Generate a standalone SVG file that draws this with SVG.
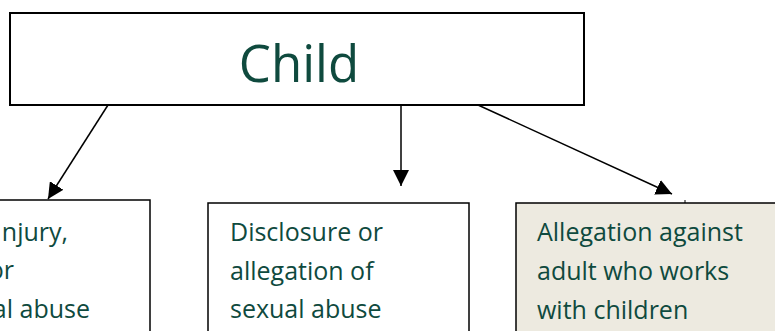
<svg xmlns="http://www.w3.org/2000/svg" width="775" height="331" viewBox="0 0 775 331">
<style>
.t{font-family:"Open Sans","Liberation Sans",sans-serif;fill:#0f4a3e;font-size:25px}
.box{fill:#ffffff;stroke:#000;stroke-width:1.5}
.c{stroke:#000;stroke-width:1.5;fill:none}
</style>
<defs>
<marker id="ah" viewBox="0 0 10 10" refX="10" refY="5" markerWidth="10" markerHeight="10" markerUnits="userSpaceOnUse" orient="auto">
<path d="M0,0 L10,5 L0,10 z" fill="#000"/>
</marker>
<marker id="ah2" viewBox="0 0 16 16" refX="16" refY="8" markerWidth="16" markerHeight="16" markerUnits="userSpaceOnUse" orient="auto">
<path d="M0,0 L16,8 L0,16 z" fill="#000"/>
</marker>
</defs>
<rect width="775" height="331" fill="#fff"/>
<g id="child">
<rect x="10" y="13" width="574" height="92" fill="#fff" stroke="#000" stroke-width="2"/>
<text class="t" x="299" y="82" text-anchor="middle" style="font-size:51px">Child</text>
</g>
<g id="node-left">
<rect class="box" x="-10" y="200" width="160" height="140"/>
<text class="t" x="68" y="241" text-anchor="end">njury,</text>
<text class="t" x="14" y="279" text-anchor="end">or</text>
<text class="t" x="90" y="318" text-anchor="end">al abuse</text>
</g>
<g id="node-middle">
<rect class="box" x="208" y="203" width="261" height="140"/>
<text class="t" x="230" y="241">Disclosure or</text>
<text class="t" x="230" y="280">allegation of</text>
<text class="t" x="230" y="318">sexual abuse</text>
</g>
<g id="node-right">
<rect x="516" y="203" width="270" height="140" fill="#edeae0" stroke="#000" stroke-width="1.5"/>
<line x1="685" y1="200" x2="685" y2="203" stroke="#000" stroke-width="1"/>
<text class="t" x="537" y="241">Allegation against</text>
<text class="t" x="537" y="280">adult who works</text>
<text class="t" x="537" y="319">with children</text>
</g>
<g id="connectors">
<line class="c" x1="108" y1="105" x2="48" y2="199" marker-end="url(#ah2)"/>
<line class="c" x1="401" y1="105" x2="401" y2="186" marker-end="url(#ah2)"/>
<line class="c" x1="478" y1="105" x2="672" y2="194" marker-end="url(#ah2)"/>
</g>
</svg>
